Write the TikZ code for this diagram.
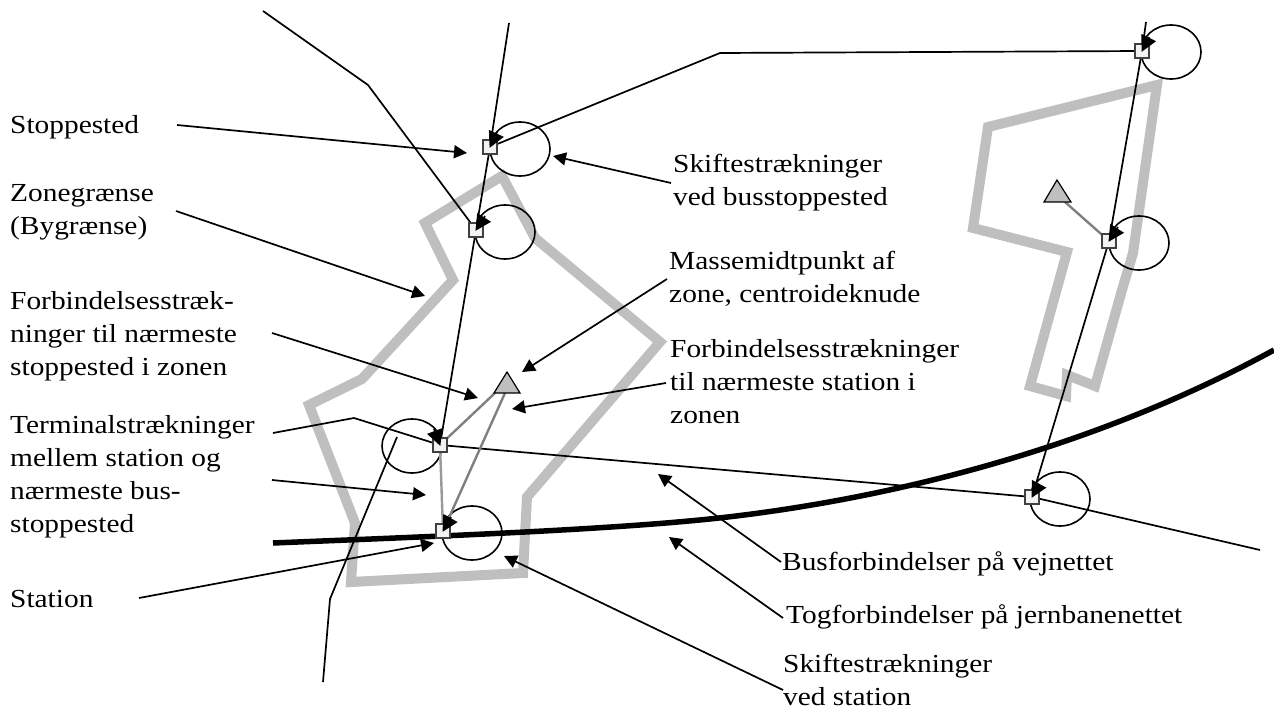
\documentclass[tikz,border=0pt]{standalone}
\usepackage{fontspec}
\setmainfont{Liberation Serif}[FakeStretch=1.13]
\usetikzlibrary{arrows.meta,backgrounds}
\begin{document}
\begin{tikzpicture}[x=1pt,y=-1pt,
  txt/.style={font=\fontsize{26}{33}\selectfont,anchor=base west,inner sep=0pt,align=left},
  busline/.style={line width=1.7pt,black},
  arr/.style={busline,-{Triangle[length=13pt,width=13pt]}},
  loophead/.style={busline,-{Triangle[length=16pt,width=16pt]},shorten >=-1pt},
  stop/.style={draw=black!75,fill=black!5,line width=1.3pt,minimum size=14pt,inner sep=0pt,rectangle},
  loopc/.style={draw,line width=1.6pt},
  zone/.style={line width=10pt,draw=black!25,line join=miter},
  conn/.style={line width=2.4pt,draw=black!50},
  cent/.style={draw=black,line width=1.2pt,fill=black!25,line join=miter}]
\useasboundingbox (0,0) rectangle (1274,711);
% nodes
\node[stop] (s1) at (490,147) {};
\node[stop] (s2) at (476,230) {};
\node[stop] (s3) at (440,445) {};
\node[stop] (s4) at (443,531) {};
\node[stop] (s5) at (1142,51) {};
\node[stop] (s6) at (1109,241) {};
\node[stop] (s7) at (1032,497) {};
% free ends
\coordinate (t1) at (263,11); \coordinate (t1b) at (368,85);
\coordinate (t2) at (509,23);
\coordinate (t3) at (720,53);
\coordinate (t4) at (1146,22);
\coordinate (t5) at (1260,550);
\coordinate (t6) at (354,418); \coordinate (t6a) at (273,433);
\coordinate (t7) at (397,437); \coordinate (t7b) at (330,599); \coordinate (t7c) at (323,682);
\coordinate (c1a) at (495,393); \coordinate (c1b) at (505,393); \coordinate (c2) at (1065,202);
\begin{scope}[on background layer]
\draw[zone] (502,176)--(535,238)--(660,342)--(527,497)--(523,573)--(351,582)--(355,523)--(309,405)--(362,379)--(453,280)--(425,223)--cycle;
\draw[zone] (1157,85)--(988,127)--(973,228)--(1067,252)--(1030,386)--(1066,396)--(1067,375)--(1095,386)--(1122,290)--(1133,253)--cycle;
\draw[line width=5.5pt] (273,543) .. controls (420,537) and (610,530) .. (719,518) .. controls (880,500) and (1085,453) .. (1274,350);
\draw[loopc] (520,149) ellipse (30pt and 27pt);
\draw[loopc] (505,232) ellipse (30pt and 27pt);
\draw[loopc] (412,446) ellipse (30pt and 27pt);
\draw[loopc] (472,533) ellipse (30pt and 27pt);
\draw[loopc] (1171,52) ellipse (30pt and 27pt);
\draw[loopc] (1139,243) ellipse (30pt and 27pt);
\draw[loopc] (1060,499) ellipse (30pt and 27pt);
\draw[busline] (t1)--(t1b)--(s2.center);
\draw[busline] (t2)--(s1.center)--(s2.center)--(s3.center);
\draw[busline] (s1.center)--(t3)--(s5.center);
\draw[busline] (t4)--(s5.center)--(s6.center)--(s7.center)--(t5);
\draw[busline] (s7.center)--(s3.center)--(t6)--(t6a);
\draw[busline] (t7)--(t7b)--(t7c);
\draw[conn] (c1a)--(s3.center);
\draw[conn] (c1b)--(s4.center);
\draw[conn,draw=black!40] (s3.center)--(s4.center);
\draw[conn] (c2)--(s6.center);
\end{scope}
\filldraw[cent] (507,372)--(494,393)--(520,393)--cycle;
\filldraw[cent] (1057,180)--(1044,202)--(1071,202)--cycle;
% loop arrowheads
\coordinate (h1) at (497,132); \coordinate (h2) at (485,216); \coordinate (h3) at (434,429); \coordinate (h4) at (451,517);
\coordinate (h5) at (1149,37); \coordinate (h6) at (1118,227); \coordinate (h7) at (1039,484);
\draw[loophead] (h1)--(s1.center);
\draw[loophead] (h2)--(s2.center);
\draw[loophead] (h3)--(s3.center);
\draw[loophead] (h4)--(s4.center);
\draw[loophead] (h5)--(s5.center);
\draw[loophead] (h6)--(s6.center);
\draw[loophead] (h7)--(s7.center);
% labels (anchored on the baseline of their last line)
\node[txt] (l1) at (10,134) {Stoppested};
\node[txt] (l2) at (10,235) {Zonegrænse\\(Bygrænse)};
\node[txt] (l3) at (10,375) {Forbindelsesstræk-\\ninger til nærmeste\\stoppested i zonen};
\node[txt] (l4) at (10,532) {Terminalstrækninger\\mellem station og\\nærmeste bus-\\stoppested};
\node[txt] (l5) at (10,607) {Station};
\node[txt] (l6) at (673,206) {Skiftestrækninger\\ved busstoppested};
\node[txt] (l7) at (669,302) {Massemidtpunkt af\\zone, centroideknude};
\node[txt] (l8) at (670,423) {Forbindelsesstrækninger\\til nærmeste station i\\zonen};
\node[txt] (l9) at (782,570) {Busforbindelser på vejnettet};
\node[txt] (l10) at (786,623) {Togforbindelser på jernbanenettet};
\node[txt] (l11) at (783,705) {Skiftestrækninger\\ved station};
% annotation arrows
\coordinate (a1s) at (177,125); \coordinate (a1e) at (467,153);
\coordinate (a2s) at (176,211); \coordinate (a2e) at (425,296);
\coordinate (a3s) at (272,333); \coordinate (a3e) at (478,398);
\coordinate (a4s) at (272,480); \coordinate (a4e) at (426,495);
\coordinate (a5s) at (139,598); \coordinate (a5e) at (434,543);
\coordinate (a6s) at (671,183); \coordinate (a6e) at (553,156);
\coordinate (a7s) at (667,279); \coordinate (a7e) at (522,372);
\coordinate (a8s) at (666,383); \coordinate (a8e) at (512,409);
\coordinate (a9s) at (781,562); \coordinate (a9e) at (658,474);
\coordinate (a10s) at (783,618); \coordinate (a10e) at (669,537);
\coordinate (a11s) at (783,690); \coordinate (a11e) at (504,556);
\foreach \i in {1,...,11} \draw[arr] (a\i s)--(a\i e);
\end{tikzpicture}
\end{document}
